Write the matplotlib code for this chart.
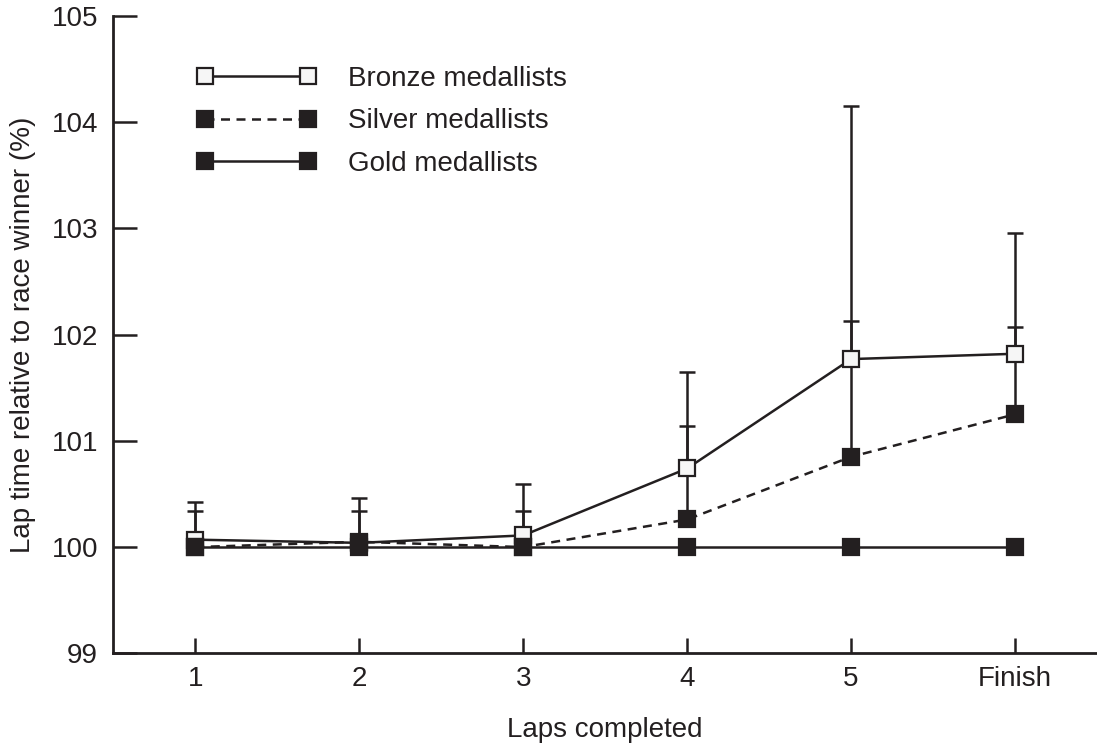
import numpy as np
import matplotlib
matplotlib.use('Agg')
from matplotlib import pyplot as plt
from matplotlib.legend_handler import HandlerLine2D

plt.rcParams['font.family'] = ['Liberation Sans', 'DejaVu Sans']

INK = '#231f20'

# data
laps = ['1', '2', '3', '4', '5', 'Finish']
gold = [100.0, 100.0, 100.0, 100.0, 100.0, 100.0]
silver = [100.0, 100.05, 100.0, 100.26, 100.85, 101.25]
silver_sd = [0.34, 0.29, 0.34, 0.88, 1.28, 0.82]
bronze = [100.07, 100.04, 100.11, 100.74, 101.77, 101.82]
bronze_sd = [0.35, 0.42, 0.48, 0.91, 2.38, 1.14]

x = np.arange(1, len(laps) + 1)

fig = plt.figure(figsize=(10.97, 7.43), dpi=100)
ax = fig.add_axes([0.1033, 0.1207, 0.8967, 0.8578])

lw = 1.8
style = dict(marker='s', markersize=11.5, markeredgewidth=1.6, linewidth=lw,
             color=INK, markeredgecolor=INK)

# bronze below, gold on top (as in the original drawing order)
ax.errorbar(x, bronze, yerr=[np.zeros(len(x)), bronze_sd], fmt='none',
            ecolor=INK, elinewidth=lw, capsize=6, capthick=lw, zorder=2)
ax.errorbar(x, silver, yerr=[np.zeros(len(x)), silver_sd], fmt='none',
            ecolor=INK, elinewidth=lw, capsize=6, capthick=lw, zorder=2)
b_line, = ax.plot(x, bronze, linestyle='-', markerfacecolor='#f6f6f6',
                  label='Bronze medallists', zorder=3, **style)
s_line, = ax.plot(x, silver, linestyle=(0, (3.6, 2.6)), markerfacecolor=INK,
                  label='Silver medallists', zorder=4, **style)
g_line, = ax.plot(x, gold, linestyle='-', markerfacecolor=INK,
                  label='Gold medallists', zorder=5, **style)

ax.set_xlim(0.5, 6.5)
ax.set_ylim(99, 105)
ax.set_xticks(x)
ax.set_xticklabels(laps)
ax.set_yticks(np.arange(99, 106, 1))

for side in ['top', 'right']:
    ax.spines[side].set_visible(False)
for side in ['left', 'bottom']:
    ax.spines[side].set_linewidth(2)
    ax.spines[side].set_color(INK)

ax.tick_params(axis='y', direction='in', length=17, width=1.8, pad=11,
               labelsize=20, color=INK, labelcolor=INK)
ax.tick_params(axis='x', direction='in', length=11, width=1.8, pad=9,
               labelsize=20, color=INK, labelcolor=INK)

ax.set_ylabel('Lap time relative to race winner (%)', fontsize=20, color=INK)
ax.set_xlabel('Laps completed', fontsize=20, color=INK)
ax.yaxis.set_label_coords(-0.079, 0.5)
ax.xaxis.set_label_coords(0.5, -0.1)

leg = ax.legend(handles=[b_line, s_line, g_line], loc='upper left',
                bbox_to_anchor=(0.093, 0.922), frameon=False, fontsize=20,
                numpoints=2, handlelength=3.7, handletextpad=1.45,
                labelspacing=0.6, borderpad=0, borderaxespad=0,
                handler_map={plt.Line2D: HandlerLine2D(marker_pad=0)})
for t in leg.get_texts():
    t.set_color(INK)

fig.savefig('out.png', dpi=100)
